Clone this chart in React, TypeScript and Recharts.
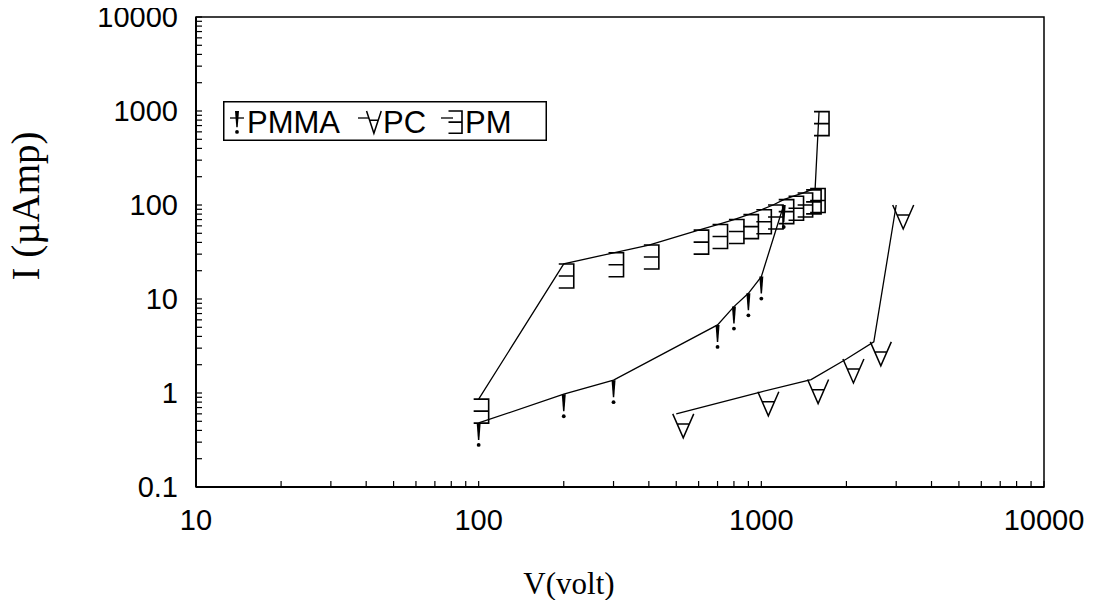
import { ScatterChart, Scatter, XAxis, YAxis, ReferenceArea, Legend } from "recharts";

// voltage (V) and current (µA)
const pmmaV = [100, 200, 300, 700, 800, 900, 1000, 1200];
const pmmaI = [0.48, 0.97, 1.37, 5.3, 8.3, 11.5, 17.3, 100];

const pcV = [500, 1000, 1500, 2000, 2500, 3000];
const pcI = [0.6, 1.03, 1.39, 2.3, 3.5, 100];

const pmV = [100, 200, 300, 400, 600, 700, 800, 900, 1000, 1100, 1200, 1300, 1400, 1500, 1550, 1600];
const pmI = [0.86, 23.6, 31, 37.5, 54, 62, 70, 79, 89, 100, 114, 124, 134, 145, 150, 984];

const majorX = [10, 100, 1000, 10000];
const majorY = [0.1, 1, 10, 100, 1000, 10000];
const steps = [1, 2, 3, 4, 5, 6, 7, 8, 9];

const xTicks = majorX.slice(0, -1).flatMap((d) => steps.map((s) => d * s)).concat([10000]);
const yTicks = majorY.slice(0, -1).flatMap((d) => steps.map((s) => +(d * s).toPrecision(3))).concat([10000]);

const toPoints = (vs: number[], is: number[]) => vs.map((v, k) => ({ v, i: is[k] }));
const pmma = toPoints(pmmaV, pmmaI);
const pc = toPoints(pcV, pcI);
const pm = toPoints(pmV, pmI);

const sans = "'Liberation Sans', Arial, sans-serif";
const serif = "'Liberation Serif', 'Times New Roman', serif";

type GlyphProps = { cx: number; cy: number; sx?: number; sy?: number };

// markers hang below/right of the data point, like the symbol-font glyphs in the original
function Bang({ cx, cy, sx = 1, sy = 1 }: GlyphProps) {
  return (
    <g>
      <path
        d={`M${cx - 2 * sx},${cy} L${cx + 2 * sx},${cy} L${cx + 0.7 * sx},${cy + 17 * sy} L${cx - 0.7 * sx},${cy + 17 * sy} Z`}
        fill="#000"
      />
      <circle cx={cx} cy={cy + 22 * sy} r={1.9 * sx} fill="#000" />
    </g>
  );
}

function ForAll({ cx, cy, sx = 1, sy = 1 }: GlyphProps) {
  const l = cx - 3.5 * sx;
  const r = cx + 17.5 * sx;
  const m = (l + r) / 2;
  const b = cy + 24 * sy;
  const f = 0.42;
  const barY = cy + 24 * sy * f;
  return (
    <path
      d={`M${l},${cy} L${m},${b} L${r},${cy} M${l + (m - l) * f},${barY} H${r - (r - m) * f}`}
      fill="none"
      stroke="#000"
      strokeWidth={1.5}
    />
  );
}

function Exists({ cx, cy, sx = 1, sy = 1 }: GlyphProps) {
  const l = cx - 5 * sx;
  const r = cx + 10 * sx;
  return (
    <path
      d={`M${l},${cy} H${r} V${cy + 24 * sy} H${l} M${l},${cy + 12 * sy} H${r}`}
      fill="none"
      stroke="#000"
      strokeWidth={1.6}
    />
  );
}

function XTick(props: any) {
  const { x, y, payload } = props;
  const v = payload.value;
  return (
    <g>
      <line x1={x} x2={x} y1={y} y2={y - 6} stroke="#000" strokeWidth={1.2} />
      {majorX.includes(v) && (
        <text x={x} y={y + 43} textAnchor="middle" fontFamily={sans} fontSize={29} fill="#000">
          {v}
        </text>
      )}
    </g>
  );
}

function YTick(props: any) {
  const { x, y, payload } = props;
  const v = payload.value;
  return (
    <g>
      <line x1={x} x2={x + 6} y1={y} y2={y} stroke="#000" strokeWidth={1.2} />
      {majorY.includes(v) && (
        <text x={x - 18} y={y + 10} textAnchor="end" fontFamily={sans} fontSize={29} fill="#000">
          {v}
        </text>
      )}
    </g>
  );
}

function LegendBox() {
  const top = 10;
  const lineY = 17;
  return (
    <svg width={324} height={40} style={{ display: "block" }}>
      <rect x={0.75} y={0.75} width={322.5} height={38.5} fill="#fff" stroke="#000" strokeWidth={1.5} />
      <line x1={7} x2={21} y1={lineY} y2={lineY} stroke="#000" strokeWidth={1.3} />
      <Bang cx={14} cy={top} sy={0.95} />
      <text x={24} y={32} fontFamily={sans} fontSize={31}>PMMA</text>
      <line x1={135} x2={146} y1={lineY} y2={lineY} stroke="#000" strokeWidth={1.3} />
      <ForAll cx={146} cy={top} sx={0.7} sy={0.93} />
      <text x={160} y={32} fontFamily={sans} fontSize={31}>PC</text>
      <line x1={218} x2={230} y1={lineY} y2={lineY} stroke="#000" strokeWidth={1.3} />
      <Exists cx={230} cy={top} sx={0.9} sy={0.93} />
      <text x={242} y={32} fontFamily={sans} fontSize={31}>PM</text>
    </svg>
  );
}

export default function App() {
  return (
    <div style={{ margin: -8 }}>
      <ScatterChart width={1094} height={608} margin={{ top: 17, right: 50, bottom: 0, left: 0 }}>
        <XAxis
          type="number"
          dataKey="v"
          scale="log"
          domain={[10, 10000]}
          allowDataOverflow
          ticks={xTicks}
          interval={0}
          tickSize={0}
          tickMargin={0}
          tick={<XTick />}
          height={121}
          axisLine={{ stroke: "#000", strokeWidth: 2 }}
          label={{
            content: (p: any) => (
              <text
                x={p.viewBox.x + p.viewBox.width / 2 - 51}
                y={p.viewBox.y + 107}
                textAnchor="middle"
                fontFamily={serif}
                fontSize={31}
              >
                V(volt)
              </text>
            ),
          }}
        />
        <YAxis
          type="number"
          dataKey="i"
          scale="log"
          domain={[0.1, 10000]}
          allowDataOverflow
          ticks={yTicks}
          interval={0}
          tickSize={0}
          tickMargin={0}
          tick={<YTick />}
          width={196}
          axisLine={{ stroke: "#000", strokeWidth: 2 }}
          label={{
            content: (p: any) => {
              const cy = p.viewBox.y + p.viewBox.height / 2 - 46;
              return (
                <text
                  transform={`translate(39,${cy}) rotate(-90)`}
                  textAnchor="middle"
                  fontFamily={serif}
                  fontSize={39}
                >
                  I (µAmp)
                </text>
              );
            },
          }}
        />
        <ReferenceArea
          x1={10}
          x2={10000}
          y1={0.1}
          y2={10000}
          fill="none"
          stroke="#000"
          strokeWidth={1.5}
          ifOverflow="visible"
        />
        <Legend
          layout="vertical"
          align="center"
          verticalAlign="middle"
          content={() => <LegendBox />}
          wrapperStyle={{ position: "absolute", left: 223, top: 101, width: 324, height: 40 }}
        />
        <Scatter
          name="PMMA"
          data={pmma}
          line={{ stroke: "#000", strokeWidth: 1.3 }}
          shape={(p: any) => <Bang cx={p.cx} cy={p.cy} />}
          isAnimationActive={false}
        />
        <Scatter
          name="PC"
          data={pc}
          line={{ stroke: "#000", strokeWidth: 1.3 }}
          shape={(p: any) => <ForAll cx={p.cx} cy={p.cy} />}
          isAnimationActive={false}
        />
        <Scatter
          name="PM"
          data={pm}
          line={{ stroke: "#000", strokeWidth: 1.3 }}
          shape={(p: any) => <Exists cx={p.cx} cy={p.cy} />}
          isAnimationActive={false}
        />
      </ScatterChart>
    </div>
  );
}
